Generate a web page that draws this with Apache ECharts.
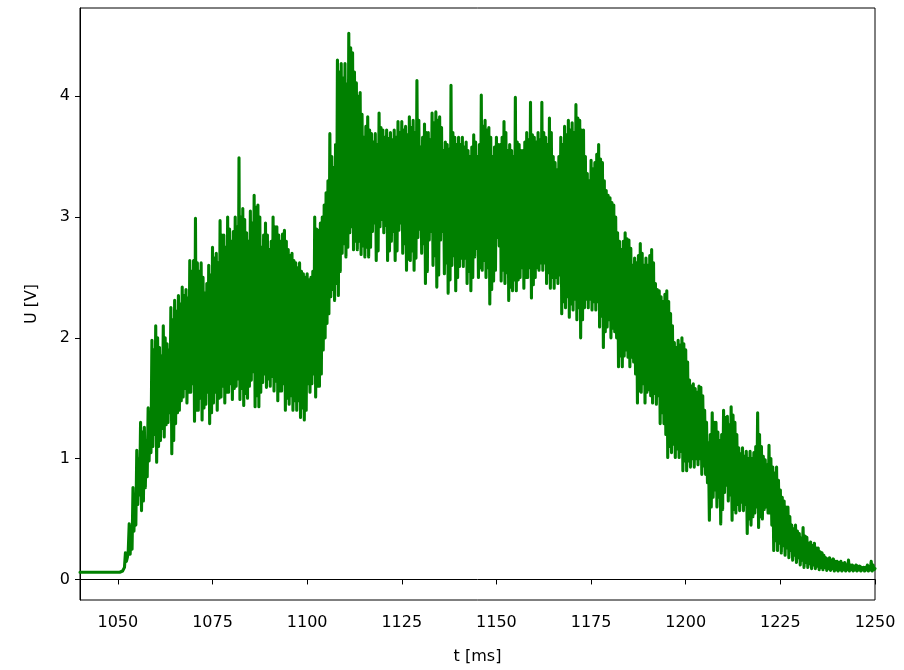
<!DOCTYPE html>
<html>
<head>
<meta charset="utf-8">
<script src="https://cdn.jsdelivr.net/npm/echarts@6/dist/echarts.min.js"></script>
<style>
  html, body { margin: 0; padding: 0; background: #fff; }
  #chart { width: 904px; height: 670px; }
</style>
</head>
<body>
<div id="chart"></div>
<script>
// Probe voltage trace: one sample every 0.25 ms starting at 1040 ms
const sampleStart = 1040;
const sampleStep = 0.25;
const voltage = [
  // 1040 - 1049.75 ms: idle baseline
  0.06, 0.06, 0.06, 0.06, 0.06, 0.06, 0.06, 0.06, 0.06, 0.06, 0.06, 0.06, 0.06, 0.06, 0.06, 0.06, 0.06, 0.06, 0.06, 0.06,
  0.06, 0.06, 0.06, 0.06, 0.06, 0.06, 0.06, 0.06, 0.06, 0.06, 0.06, 0.06, 0.06, 0.06, 0.06, 0.06, 0.06, 0.06, 0.06, 0.06,
  // 1050 - 1074.75 ms: onset
  0.06, 0.06, 0.06, 0.06, 0.06, 0.07, 0.08, 0.10, 0.22, 0.15, 0.18, 0.24, 0.46, 0.21, 0.44, 0.25, 0.76, 0.40, 0.70, 0.45,
  1.07, 0.62, 1.00, 0.70, 1.30, 0.57, 1.22, 0.65, 1.26, 0.76, 1.15, 0.85, 1.42, 0.98, 1.35, 1.05, 1.98, 1.10, 1.90, 1.20,
  2.10, 0.97, 2.00, 1.10, 1.92, 1.15, 1.85, 1.25, 2.10, 1.18, 2.00, 1.28, 1.95, 1.30, 1.90, 1.38, 2.25, 1.04, 2.15, 1.15,
  2.31, 1.29, 2.22, 1.38, 2.35, 1.40, 2.28, 1.48, 2.42, 1.51, 2.35, 1.58, 2.40, 1.46, 2.33, 1.55, 2.64, 1.55, 2.55, 1.62,
  2.64, 1.31, 2.99, 1.40, 2.62, 1.40, 2.55, 1.50, 2.62, 1.32, 2.50, 1.42, 2.37, 1.45, 2.45, 1.55, 2.60, 1.29, 2.52, 1.38,
  // 1075 - 1099.75 ms: first plateau
  2.75, 1.46, 2.66, 1.55, 2.70, 1.40, 2.62, 1.50, 2.97, 1.51, 2.85, 1.60, 2.85, 1.46, 2.75, 1.55, 3.00, 1.55, 2.90, 1.62,
  2.80, 1.49, 2.88, 1.58, 3.00, 1.60, 2.92, 1.66, 3.49, 1.49, 3.00, 1.58, 3.07, 1.44, 2.98, 1.54, 2.87, 1.50, 2.80, 1.60,
  3.05, 1.65, 2.95, 1.72, 3.18, 1.43, 3.08, 1.52, 3.10, 1.43, 3.00, 1.55, 2.75, 1.63, 2.85, 1.70, 2.95, 1.59, 2.85, 1.66,
  2.73, 1.60, 2.80, 1.68, 3.00, 1.56, 2.92, 1.64, 2.92, 1.48, 2.85, 1.56, 2.80, 1.56, 2.86, 1.62, 2.89, 1.40, 2.80, 1.50,
  2.73, 1.45, 2.68, 1.52, 2.70, 1.40, 2.64, 1.48, 2.62, 1.40, 2.58, 1.48, 2.62, 1.34, 2.55, 1.42, 2.53, 1.32, 2.50, 1.40,
  // 1100 - 1124.75 ms: second rise
  2.53, 1.62, 2.48, 1.55, 2.50, 1.62, 2.55, 1.70, 3.00, 1.51, 2.90, 1.60, 2.89, 1.60, 2.95, 1.70, 3.00, 1.90, 3.10, 2.00,
  3.20, 2.12, 3.30, 2.20, 3.69, 2.34, 3.50, 2.40, 3.41, 2.31, 3.60, 2.45, 4.30, 2.35, 4.20, 2.55, 4.27, 2.70, 4.15, 2.78,
  4.27, 2.67, 4.10, 2.75, 4.52, 2.87, 4.40, 2.92, 4.36, 2.73, 4.20, 2.80, 4.11, 2.73, 4.00, 2.80, 4.03, 2.69, 3.85, 2.76,
  3.66, 2.67, 3.75, 2.75, 3.83, 2.67, 3.72, 2.75, 3.69, 2.88, 3.62, 2.95, 3.69, 2.64, 3.60, 2.72, 3.86, 2.92, 3.74, 2.98,
  3.72, 2.87, 3.66, 2.93, 3.72, 2.64, 3.65, 2.72, 3.70, 2.80, 3.64, 2.88, 3.72, 2.64, 3.66, 2.72, 3.79, 2.89, 3.70, 2.95,
  // 1125 - 1149.75 ms: main plateau
  3.79, 2.70, 3.72, 2.78, 3.75, 2.56, 3.68, 2.65, 3.83, 2.64, 3.74, 2.72, 3.80, 2.56, 3.70, 2.66, 4.13, 2.83, 3.80, 2.90,
  3.58, 2.70, 3.66, 2.78, 3.77, 2.45, 3.70, 2.55, 3.70, 2.81, 3.64, 2.88, 3.86, 2.60, 3.78, 2.68, 3.87, 2.42, 3.80, 2.52,
  3.83, 2.81, 3.74, 2.88, 3.55, 2.53, 3.62, 2.62, 3.60, 2.37, 3.56, 2.48, 4.09, 2.60, 3.70, 2.68, 3.66, 2.39, 3.60, 2.50,
  3.66, 2.59, 3.60, 2.66, 3.66, 2.59, 3.58, 2.66, 3.62, 2.45, 3.55, 2.55, 3.50, 2.39, 3.58, 2.50, 3.68, 2.67, 3.62, 2.74,
  3.50, 2.50, 3.60, 2.58, 4.01, 2.56, 3.75, 2.64, 3.80, 2.50, 3.72, 2.58, 3.74, 2.28, 3.66, 2.40, 3.50, 2.47, 3.58, 2.56,
  // 1150 - 1174.75 ms
  3.66, 2.83, 3.60, 2.76, 3.60, 2.47, 3.66, 2.56, 3.79, 2.45, 3.70, 2.54, 3.55, 2.31, 3.60, 2.42, 3.55, 2.39, 3.50, 2.48,
  3.99, 2.39, 3.62, 2.48, 3.60, 2.50, 3.55, 2.58, 3.55, 2.41, 3.62, 2.50, 3.70, 2.50, 3.64, 2.58, 3.95, 2.33, 3.68, 2.44,
  3.66, 2.50, 3.62, 2.58, 3.70, 2.56, 3.64, 2.62, 3.95, 2.56, 3.70, 2.62, 3.66, 2.45, 3.60, 2.54, 3.82, 2.41, 3.70, 2.50,
  3.50, 2.41, 3.45, 2.50, 3.39, 2.45, 3.50, 2.52, 3.66, 2.20, 3.60, 2.30, 3.75, 2.25, 3.68, 2.34, 3.80, 2.17, 3.72, 2.28,
  3.78, 2.23, 3.70, 2.32, 3.93, 2.15, 3.82, 2.25, 3.80, 2.00, 3.72, 2.15, 3.72, 2.25, 3.50, 2.32, 3.36, 2.25, 3.30, 2.32,
  // 1175 - 1199.75 ms: decay
  3.47, 2.23, 3.40, 2.30, 3.45, 2.23, 3.52, 2.30, 3.60, 2.09, 3.48, 2.18, 3.45, 1.92, 3.30, 2.05, 3.22, 2.09, 3.18, 2.15,
  3.16, 2.00, 3.12, 2.08, 3.10, 2.05, 3.00, 2.00, 2.87, 1.76, 2.80, 1.85, 2.73, 1.76, 2.80, 1.85, 2.87, 1.90, 2.82, 1.84,
  2.81, 1.76, 2.74, 1.84, 2.60, 1.80, 2.66, 1.70, 2.62, 1.46, 2.68, 1.56, 2.78, 1.55, 2.70, 1.62, 2.60, 1.46, 2.66, 1.55,
  2.60, 1.57, 2.68, 1.52, 2.73, 1.46, 2.62, 1.54, 2.45, 1.45, 2.40, 1.52, 2.39, 1.29, 2.34, 1.38, 2.30, 1.29, 2.36, 1.20,
  2.39, 1.01, 2.30, 1.10, 2.20, 1.05, 2.10, 1.12, 1.96, 1.01, 1.92, 1.08, 1.98, 1.01, 1.94, 1.06, 2.00, 0.90, 1.95, 0.98,
  // 1200 - 1224.75 ms
  1.90, 0.90, 1.80, 0.98, 1.65, 0.93, 1.60, 1.00, 1.62, 0.93, 1.58, 1.00, 1.55, 0.95, 1.60, 1.00, 1.59, 0.87, 1.52, 0.94,
  1.40, 0.87, 1.30, 0.80, 1.13, 0.49, 1.20, 0.60, 1.38, 0.68, 1.30, 0.74, 1.30, 0.60, 1.22, 0.68, 1.15, 0.46, 1.20, 0.58,
  1.40, 0.72, 1.34, 0.78, 1.35, 0.65, 1.28, 0.70, 1.43, 0.49, 1.36, 0.58, 1.30, 0.55, 1.20, 0.62, 1.09, 0.57, 1.04, 0.64,
  1.09, 0.57, 1.02, 0.62, 1.06, 0.38, 1.00, 0.50, 1.06, 0.45, 1.00, 0.52, 1.05, 0.55, 1.10, 0.60, 1.38, 0.43, 1.20, 0.52,
  1.10, 0.50, 1.02, 0.58, 0.99, 0.60, 0.95, 0.55, 1.11, 0.55, 1.00, 0.45, 0.93, 0.24, 0.88, 0.32, 0.93, 0.24, 0.82, 0.30,
  // 1225 - 1250 ms: tail back to baseline
  0.74, 0.22, 0.68, 0.28, 0.65, 0.20, 0.60, 0.26, 0.60, 0.18, 0.52, 0.24, 0.45, 0.16, 0.42, 0.20, 0.45, 0.14, 0.40, 0.18,
  0.38, 0.12, 0.34, 0.16, 0.43, 0.10, 0.36, 0.14, 0.35, 0.10, 0.30, 0.13, 0.31, 0.09, 0.28, 0.12, 0.30, 0.09, 0.26, 0.11,
  0.26, 0.08, 0.23, 0.10, 0.22, 0.08, 0.20, 0.10, 0.18, 0.075, 0.17, 0.09, 0.18, 0.075, 0.16, 0.09, 0.17, 0.07, 0.15, 0.08,
  0.15, 0.07, 0.14, 0.08, 0.15, 0.07, 0.13, 0.08, 0.14, 0.07, 0.12, 0.08, 0.16, 0.07, 0.12, 0.08, 0.12, 0.07, 0.11, 0.08,
  0.12, 0.07, 0.11, 0.08, 0.11, 0.07, 0.10, 0.08, 0.10, 0.07, 0.10, 0.08, 0.12, 0.07, 0.10, 0.08, 0.15, 0.07, 0.12, 0.08,
  0.09
];

const xTicks = [1050, 1075, 1100, 1125, 1150, 1175, 1200, 1225, 1250];
const yTicks = [0, 1, 2, 3, 4];

const points = voltage.map((u, i) => [sampleStart + i * sampleStep, u]);

const font = 'DejaVu Sans';
const plain = (v) => String(v);
const chart = echarts.init(document.getElementById('chart'), null, { renderer: 'canvas' });

chart.setOption({
  animation: false,
  backgroundColor: '#fff',
  grid: {
    left: 80, right: 29, top: 8, bottom: 70,
    show: true, borderColor: '#000', borderWidth: 1, backgroundColor: 'transparent'
  },
  xAxis: {
    type: 'value',
    min: 1040, max: 1250,
    name: 't [ms]',
    nameLocation: 'middle',
    nameGap: 49,
    nameTextStyle: { fontFamily: font, fontSize: 16, color: '#000' },
    axisLine: { show: true, lineStyle: { color: '#000', width: 1 } },
    axisTick: { show: true, inside: false, length: 5, lineStyle: { color: '#000' }, customValues: xTicks },
    axisLabel: { fontFamily: font, fontSize: 16, color: '#000', margin: 15, formatter: plain, customValues: xTicks },
    splitLine: { show: false }
  },
  yAxis: {
    type: 'value',
    min: -0.17, max: 4.73,
    name: 'U [V]',
    nameLocation: 'middle',
    nameGap: 40,
    nameTextStyle: { fontFamily: font, fontSize: 16, color: '#000' },
    axisLine: { show: true, lineStyle: { color: '#000', width: 1 } },
    axisTick: { show: true, inside: false, length: 5, lineStyle: { color: '#000' }, customValues: yTicks },
    axisLabel: { fontFamily: font, fontSize: 16, color: '#000', margin: 10, formatter: plain, customValues: yTicks },
    splitLine: { show: false }
  },
  series: [{
    type: 'line',
    data: points,
    showSymbol: false,
    symbol: 'none',
    sampling: null,
    lineStyle: { color: '#008000', width: 3.1, join: 'round', cap: 'round' },
    z: 2
  }]
});
</script>
</body>
</html>
